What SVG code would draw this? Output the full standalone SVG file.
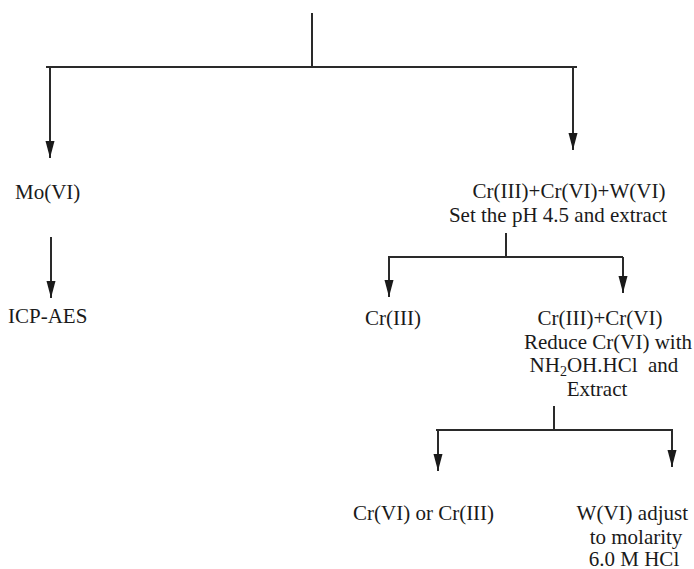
<svg xmlns="http://www.w3.org/2000/svg" width="694" height="569" viewBox="0 0 694 569">
<style>
text { font-family: "Liberation Serif", "Times New Roman", serif; font-size: 21px; fill: #1a1a1a; }
.c { text-anchor: middle; }
.e { text-anchor: end; }
.ln { stroke: #2a2a2a; stroke-width: 2; fill: none; }
.ar { stroke: #2a2a2a; stroke-width: 2; fill: none; marker-end: url(#ah); }
</style>
<defs>
<marker id="ah" markerUnits="userSpaceOnUse" markerWidth="18" markerHeight="10" refX="17" refY="4.5" orient="auto">
<path d="M0,0 L17,4.5 L0,9 z" fill="#1a1a1a"/>
</marker>
</defs>
<g id="connectors">
<line class="ln" x1="312" y1="13" x2="312" y2="67"/>
<line class="ln" x1="46" y1="67" x2="577" y2="67"/>
<line class="ar" x1="50" y1="67" x2="50" y2="158"/>
<line class="ar" x1="573" y1="67" x2="573" y2="150"/>
<line class="ar" x1="51" y1="237" x2="51" y2="298"/>
<line class="ln" x1="506" y1="233" x2="506" y2="257"/>
<line class="ln" x1="388" y1="257" x2="623" y2="257"/>
<line class="ar" x1="389" y1="257" x2="389" y2="297"/>
<line class="ar" x1="623" y1="257" x2="623" y2="293"/>
<line class="ln" x1="554" y1="406" x2="554" y2="430"/>
<line class="ln" x1="436" y1="430" x2="673" y2="430"/>
<line class="ar" x1="438" y1="430" x2="438" y2="471"/>
<line class="ar" x1="672" y1="430" x2="672" y2="467"/>
</g>
<g id="mo"><text x="15" y="199">Mo(VI)</text></g>
<g id="icp"><text x="8" y="323">ICP-AES</text></g>
<g id="crw">
<text class="c" x="569" y="198">Cr(III)+Cr(VI)+W(VI)</text>
<text class="c" x="558" y="222">Set the pH 4.5 and extract</text>
</g>
<g id="cr3"><text x="365" y="325">Cr(III)</text></g>
<g id="cr36">
<text class="c" x="600" y="325">Cr(III)+Cr(VI)</text>
<text class="e" x="692" y="349">Reduce Cr(VI) with</text>
<text class="c" x="604" y="372">NH<tspan font-size="14" dy="4">2</tspan><tspan dy="-4">OH.HCl&#160; and</tspan></text>
<text class="c" x="597" y="396">Extract</text>
</g>
<g id="cr6or3"><text x="353" y="520">Cr(VI) or Cr(III)</text></g>
<g id="w6">
<text class="e" x="688" y="520">W(VI) adjust</text>
<text class="c" x="636" y="544">to molarity</text>
<text class="c" x="634" y="566">6.0 M HCl</text>
</g>
</svg>
